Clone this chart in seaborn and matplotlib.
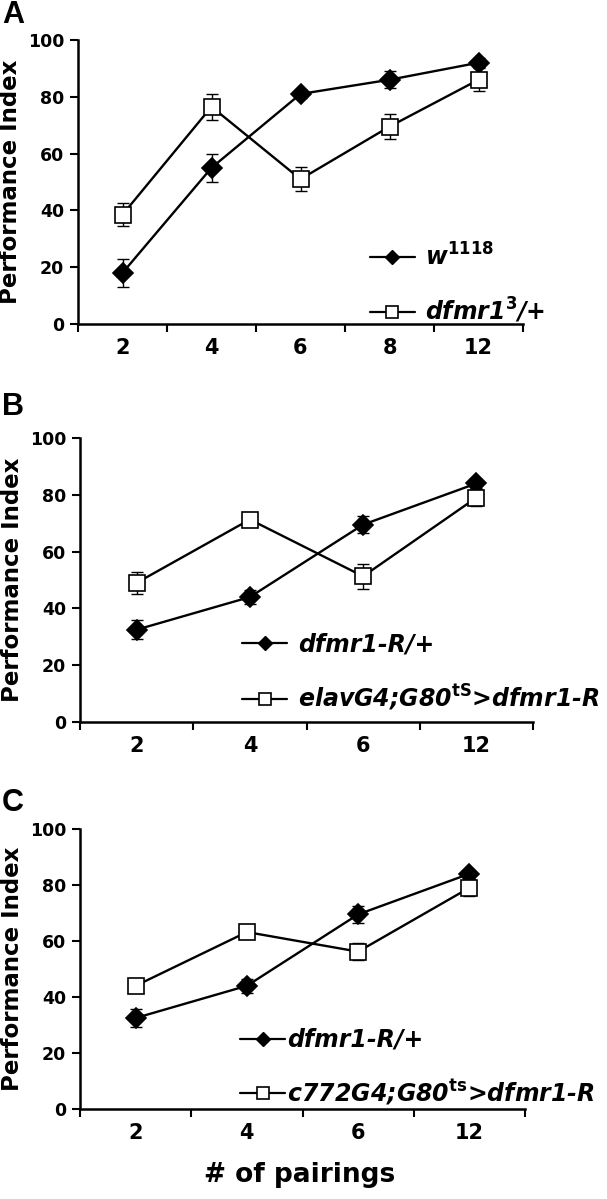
import numpy as np
import pandas as pd
import seaborn as sns
import matplotlib.pyplot as plt
from matplotlib.lines import Line2D
from matplotlib.ticker import MultipleLocator, FixedLocator

# ─── Data ─────────────────────────────────────────────────────────────
pairings_a = ["2", "4", "6", "8", "12"]
w1118_mean = [18, 55, 81, 86, 92]
w1118_err = [5, 5, 1.5, 3, 1.5]
dfmr3_mean = [38.5, 76.5, 51, 69.5, 86]
dfmr3_err = [4, 4.5, 4.3, 4.3, 4]

pairings_bc = ["2", "4", "6", "12"]
rescue_ctrl_mean = [32.5, 44, 69.5, 84]
rescue_ctrl_err = [3.3, 2.5, 3, 1.5]
elav_mean = [49, 71.3, 51.3, 79]
elav_err = [3.8, 1.5, 4.4, 3]
c772_mean = [44, 63.2, 56.2, 79]
c772_err = [1.5, 1.5, 3, 3]

labels_a = [r"w$^{\mathrm{1118}}$", r"dfmr1$^{\mathrm{3}}$/+"]
labels_b = [r"dfmr1-R/+", r"elavG4;G80$^{\mathrm{tS}}$>dfmr1-R"]
labels_c = [r"dfmr1-R/+", r"c772G4;G80$^{\mathrm{ts}}$>dfmr1-R"]

sns.set_theme(style="ticks")
plt.rcParams["font.family"] = ["DejaVu Sans"]
plt.rcParams["mathtext.fontset"] = "custom"
plt.rcParams["mathtext.rm"] = "DejaVu Sans:bold"
plt.rcParams["mathtext.it"] = "DejaVu Sans:italic:bold"
plt.rcParams["mathtext.bf"] = "DejaVu Sans:bold"
for key in ["text.color", "axes.labelcolor", "xtick.color", "ytick.color", "axes.edgecolor"]:
    plt.rcParams[key] = "black"

W, H = 607, 1199
fig = plt.figure(figsize=(W / 100, H / 100), dpi=100)


def px_axes(left, right, top, bottom):
    return fig.add_axes([left / W, 1 - bottom / H, (right - left) / W, (bottom - top) / H])


def draw_series(ax, cats, mean, err, marker, face, ms):
    ax.errorbar(range(len(cats)), mean, yerr=err, fmt="none", ecolor="black",
                elinewidth=1.0, capsize=4, capthick=1.0, zorder=2)
    sns.pointplot(x=cats, y=mean, ax=ax, color="black", errorbar=None,
                  marker=marker, markersize=ms, markerfacecolor=face,
                  markeredgecolor="black", markeredgewidth=1.2,
                  linewidth=1.7, zorder=3)


def style_axes(ax, cats):
    n = len(cats)
    ax.set_xlim(-0.5, n - 0.5)
    ax.set_ylim(0, 100)
    ax.yaxis.set_major_locator(MultipleLocator(20))
    ax.xaxis.set_minor_locator(FixedLocator(np.arange(-0.5, n, 1.0)))
    ax.tick_params(axis="x", which="major", length=0, pad=10)
    ax.tick_params(axis="x", which="minor", length=6, width=1.5, direction="out")
    ax.tick_params(axis="y", which="major", length=6, width=1.5, direction="out", pad=4)
    for lab in ax.get_xticklabels():
        lab.set_fontsize(15)
        lab.set_fontweight("bold")
    for lab in ax.get_yticklabels():
        lab.set_fontsize(12.5)
        lab.set_fontweight("bold")
    sns.despine(ax=ax)
    ax.spines["left"].set_linewidth(1.8)
    ax.spines["bottom"].set_linewidth(1.8)
    ax.set_facecolor("white")
    ax.set_xlabel("")
    ax.set_ylabel("Performance Index", fontsize=16.5, fontweight="bold", labelpad=4)


def add_legend(ax, labels, anchor, textpad):
    handles = [
        Line2D([], [], color="black", lw=1.6, marker="D", markersize=7,
               markerfacecolor="black"),
        Line2D([], [], color="black", lw=1.6, marker="s", markersize=8,
               markerfacecolor="white", markeredgewidth=1.2),
    ]
    ax.legend(handles, labels, loc="upper left", bbox_to_anchor=anchor,
              frameon=False, borderpad=0, borderaxespad=0, handlelength=1.9,
              handletextpad=textpad, labelspacing=1.1,
              prop={"size": 17, "weight": "bold", "style": "italic"})


# ─── Panel A ──────────────────────────────────────────────────────────
ax_a = px_axes(78, 523, 40, 324)
draw_series(ax_a, pairings_a, w1118_mean, w1118_err, "D", "black", 10)
draw_series(ax_a, pairings_a, dfmr3_mean, dfmr3_err, "s", "white", 11)
style_axes(ax_a, pairings_a)
add_legend(ax_a, labels_a, (0.656, 0.285), 0.45)

# ─── Panel B ──────────────────────────────────────────────────────────
ax_b = px_axes(80, 533, 438, 722)
draw_series(ax_b, pairings_bc, rescue_ctrl_mean, rescue_ctrl_err, "D", "black", 10)
draw_series(ax_b, pairings_bc, elav_mean, elav_err, "s", "white", 11)
style_axes(ax_b, pairings_bc)
add_legend(ax_b, labels_b, (0.358, 0.315), 0.45)

# ─── Panel C ──────────────────────────────────────────────────────────
ax_c = px_axes(80, 525, 829, 1109)
draw_series(ax_c, pairings_bc, rescue_ctrl_mean, rescue_ctrl_err, "D", "black", 10)
draw_series(ax_c, pairings_bc, c772_mean, c772_err, "s", "white", 11)
style_axes(ax_c, pairings_bc)
add_legend(ax_c, labels_c, (0.36, 0.29), 0.1)

fig.text(300 / W, 1 - 1175 / H, "# of pairings", ha="center", va="center",
         fontsize=19, fontweight="bold")

for letter, ytop in [("A", 0), ("B", 392), ("C", 788)]:
    fig.text(2 / W, 1 - ytop / H, letter, ha="left", va="top", fontsize=22,
             fontweight="bold", family=["Liberation Sans", "DejaVu Sans"])

fig.savefig("out.png", dpi=100, facecolor="white")
